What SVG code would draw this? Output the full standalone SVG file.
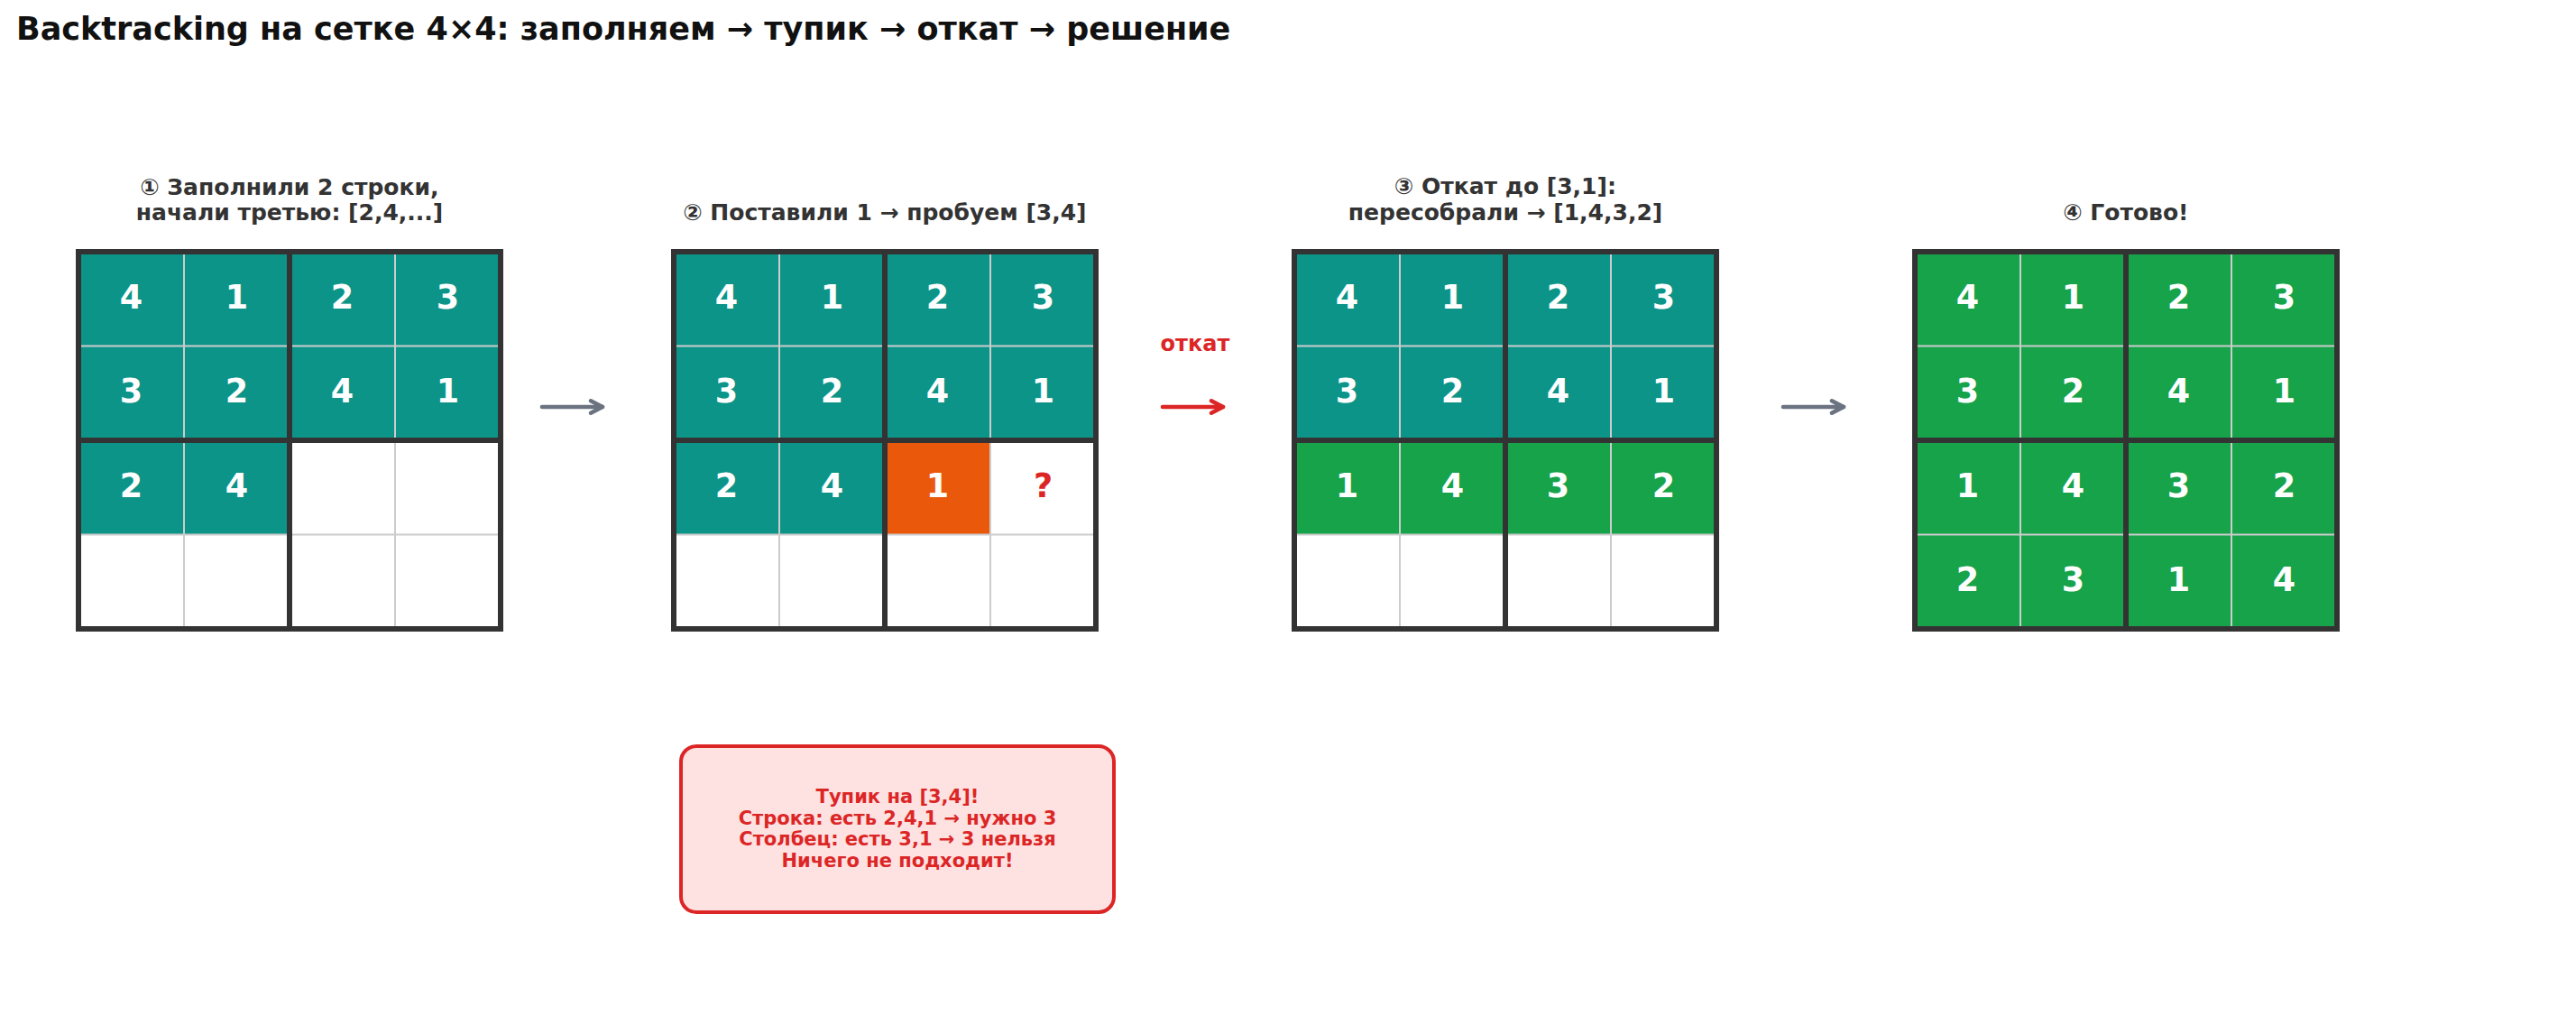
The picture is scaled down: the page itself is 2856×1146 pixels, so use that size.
<svg xmlns="http://www.w3.org/2000/svg" width="2856" height="1146" viewBox="0 0 2856 1146">
<defs>
<style>
text{font-family:"DejaVu Sans","Liberation Sans",sans-serif;font-weight:bold}
.title{font-size:35px;fill:#111111}
.sub{font-size:25px;fill:#333333;text-anchor:middle}
.num{font-size:36.5px;fill:#ffffff;text-anchor:middle}
.q{font-size:36.5px;fill:#dc2626;text-anchor:middle}
.teal{fill:#0d9488}
.green{fill:#16a34a}
.orange{fill:#ea580c}
.empty{fill:#ffffff}
.thin{stroke:#cccccc;stroke-width:2;fill:none}
.thick{stroke:#333333;stroke-width:6;fill:none}
.arr{fill:none;stroke-width:4.6;stroke-linecap:round;stroke-linejoin:round}
.gray{stroke:#6b7280}
.red{stroke:#dc2626}
.lbl{font-size:24px;fill:#dc2626;text-anchor:middle}
.note{font-size:21px;fill:#dc2626;text-anchor:middle}
</style>
<marker id="hg" markerUnits="userSpaceOnUse" markerWidth="20" markerHeight="20" refX="13" refY="6.7" orient="auto" overflow="visible">
<path d="M0,0 L13,6.7 L0,13.4" fill="none" stroke="#6b7280" stroke-width="4.6" stroke-linecap="round" stroke-linejoin="round"/>
</marker>
<marker id="hr" markerUnits="userSpaceOnUse" markerWidth="20" markerHeight="20" refX="13" refY="6.7" orient="auto" overflow="visible">
<path d="M0,0 L13,6.7 L0,13.4" fill="none" stroke="#dc2626" stroke-width="4.6" stroke-linecap="round" stroke-linejoin="round"/>
</marker>
<g id="gridlines">
<path class="thin" d="M117,0 V418 M351,0 V418 M0,104.5 H468 M0,313.5 H468"/>
<path class="thick" d="M234,0 V418 M0,209 H468"/>
<rect class="thick" x="0" y="0" width="468" height="418"/>
</g>
</defs>
<rect width="2856" height="1146" fill="#ffffff"/>

<text class="title" x="18" y="44">Backtracking на сетке 4×4: заполняем → тупик → откат → решение</text>

<g id="step1">
<text class="sub" x="321" y="216">① Заполнили 2 строки,</text>
<text class="sub" x="321" y="244">начали третью: [2,4,...]</text>
<g transform="translate(87,279)">
<rect class="teal" x="0" y="0" width="468" height="209"/>
<rect class="teal" x="0" y="209" width="234" height="104.5"/>
<rect class="empty" x="234" y="209" width="234" height="104.5"/>
<rect class="empty" x="0" y="313.5" width="468" height="104.5"/>
<use href="#gridlines"/>
<text class="num" x="58.5" y="62.5">4</text><text class="num" x="175.5" y="62.5">1</text><text class="num" x="292.5" y="62.5">2</text><text class="num" x="409.5" y="62.5">3</text>
<text class="num" x="58.5" y="167">3</text><text class="num" x="175.5" y="167">2</text><text class="num" x="292.5" y="167">4</text><text class="num" x="409.5" y="167">1</text>
<text class="num" x="58.5" y="271.5">2</text><text class="num" x="175.5" y="271.5">4</text>
</g>
</g>

<g id="step2">
<text class="sub" x="981" y="244">② Поставили 1 → пробуем [3,4]</text>
<g transform="translate(747,279)">
<rect class="teal" x="0" y="0" width="468" height="209"/>
<rect class="teal" x="0" y="209" width="234" height="104.5"/>
<rect class="orange" x="234" y="209" width="117" height="104.5"/>
<rect class="empty" x="351" y="209" width="117" height="104.5"/>
<rect class="empty" x="0" y="313.5" width="468" height="104.5"/>
<use href="#gridlines"/>
<text class="num" x="58.5" y="62.5">4</text><text class="num" x="175.5" y="62.5">1</text><text class="num" x="292.5" y="62.5">2</text><text class="num" x="409.5" y="62.5">3</text>
<text class="num" x="58.5" y="167">3</text><text class="num" x="175.5" y="167">2</text><text class="num" x="292.5" y="167">4</text><text class="num" x="409.5" y="167">1</text>
<text class="num" x="58.5" y="271.5">2</text><text class="num" x="175.5" y="271.5">4</text><text class="num" x="292.5" y="271.5">1</text><text class="q" x="409.5" y="271.5">?</text>
</g>
</g>

<g id="step3">
<text class="sub" x="1669" y="215">③ Откат до [3,1]:</text>
<text class="sub" x="1669" y="244">пересобрали → [1,4,3,2]</text>
<g transform="translate(1435,279)">
<rect class="teal" x="0" y="0" width="468" height="209"/>
<rect class="green" x="0" y="209" width="468" height="104.5"/>
<rect class="empty" x="0" y="313.5" width="468" height="104.5"/>
<use href="#gridlines"/>
<text class="num" x="58.5" y="62.5">4</text><text class="num" x="175.5" y="62.5">1</text><text class="num" x="292.5" y="62.5">2</text><text class="num" x="409.5" y="62.5">3</text>
<text class="num" x="58.5" y="167">3</text><text class="num" x="175.5" y="167">2</text><text class="num" x="292.5" y="167">4</text><text class="num" x="409.5" y="167">1</text>
<text class="num" x="58.5" y="271.5">1</text><text class="num" x="175.5" y="271.5">4</text><text class="num" x="292.5" y="271.5">3</text><text class="num" x="409.5" y="271.5">2</text>
</g>
</g>

<g id="step4">
<text class="sub" x="2357" y="244">④ Готово!</text>
<g transform="translate(2123,279)">
<rect class="green" x="0" y="0" width="468" height="418"/>
<use href="#gridlines"/>
<text class="num" x="58.5" y="62.5">4</text><text class="num" x="175.5" y="62.5">1</text><text class="num" x="292.5" y="62.5">2</text><text class="num" x="409.5" y="62.5">3</text>
<text class="num" x="58.5" y="167">3</text><text class="num" x="175.5" y="167">2</text><text class="num" x="292.5" y="167">4</text><text class="num" x="409.5" y="167">1</text>
<text class="num" x="58.5" y="271.5">1</text><text class="num" x="175.5" y="271.5">4</text><text class="num" x="292.5" y="271.5">3</text><text class="num" x="409.5" y="271.5">2</text>
<text class="num" x="58.5" y="376">2</text><text class="num" x="175.5" y="376">3</text><text class="num" x="292.5" y="376">1</text><text class="num" x="409.5" y="376">4</text>
</g>
</g>

<g id="deadend">
<rect x="755" y="827" width="480" height="184" rx="17" fill="#fee2e2" stroke="#dc2626" stroke-width="4"/>
<text class="note" x="995" y="890">Тупик на [3,4]!</text>
<text class="note" x="995" y="913.5">Строка: есть 2,4,1 → нужно 3</text>
<text class="note" x="995" y="937">Столбец: есть 3,1 → 3 нельзя</text>
<text class="note" x="995" y="960.5">Ничего не подходит!</text>
</g>

<g id="connectors">
<line class="arr gray" x1="601" y1="451" x2="668" y2="451" marker-end="url(#hg)"/>
<line class="arr red" x1="1289" y1="451" x2="1356" y2="451" marker-end="url(#hr)"/>
<text class="lbl" x="1325" y="389">откат</text>
<line class="arr gray" x1="1977" y1="451" x2="2044" y2="451" marker-end="url(#hg)"/>
</g>
</svg>
